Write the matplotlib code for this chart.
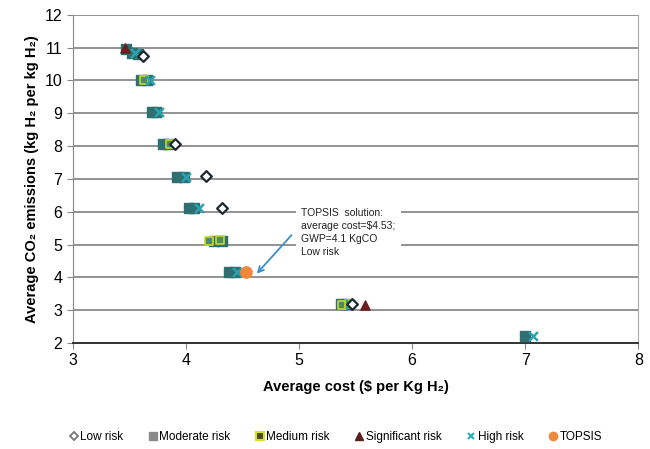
import matplotlib.pyplot as plt
from matplotlib.lines import Line2D

plt.rcParams["font.family"] = ["Liberation Sans", "DejaVu Sans"]

# values
low_x = [3.62, 3.90, 4.18, 4.32, 5.47]
low_y = [10.75, 8.05, 7.1, 6.1, 3.2]

moderate_x = [3.47, 3.52, 3.58, 3.60, 3.66, 3.70, 3.74, 3.80, 3.84, 3.92,
              3.98, 4.03, 4.07, 4.25, 4.32, 4.38, 4.43, 5.37, 5.42, 7.00]
moderate_y = [10.95, 10.85, 10.8, 10.0, 10.0, 9.05, 9.05, 8.05, 8.05, 7.05,
              7.05, 6.1, 6.1, 5.1, 5.1, 4.15, 4.15, 3.2, 3.2, 2.2]

medium_x = [3.63, 3.86, 4.20, 4.30, 5.38, 5.44]
medium_y = [10.0, 8.05, 5.1, 5.15, 3.15, 3.2]

significant_x = [3.46, 5.58]
significant_y = [11.0, 3.15]

high_x = [3.55, 3.68, 3.76, 4.00, 4.12, 4.45, 5.45, 7.07]
high_y = [10.85, 10.0, 9.05, 7.05, 6.1, 4.15, 3.2, 2.2]

topsis_x = [4.53]
topsis_y = [4.15]

x_ticks = [3, 4, 5, 6, 7, 8]
y_ticks = [2, 3, 4, 5, 6, 7, 8, 9, 10, 11, 12]

teal = "#2f6f70"

fig = plt.figure(figsize=(6.5, 4.49), dpi=100)
ax = fig.add_axes([0.112, 0.236, 0.870, 0.731])

for y in y_ticks[1:]:
    ax.axhline(y, color="#8a8a8a", lw=1.3, zorder=1)

ax.scatter(moderate_x, moderate_y, marker="s", s=46, color=teal, zorder=3)
ax.scatter(medium_x, medium_y, marker="s", s=40, facecolor="#4f8a6a",
           edgecolor="#c9d92a", lw=1.2, zorder=3)
ax.scatter(high_x, high_y, marker="x", s=40, color="#2aa3b0", lw=1.8, zorder=4)
ax.scatter(low_x, low_y, marker="D", s=30, facecolor="white",
           edgecolor="#1c2a30", lw=1.6, zorder=4)
ax.scatter(significant_x, significant_y, marker="^", s=44, color="#6b1e1e", zorder=4)
ax.scatter(topsis_x, topsis_y, marker="o", s=66, color="#f0883e", zorder=5)

ax.text(5.02, 6.12, "TOPSIS  solution:\naverage cost=$4.53;\nGWP=4.1 KgCO\nLow risk",
        fontsize=7.5, va="top", ha="left", color="#222222", linespacing=1.4,
        bbox=dict(facecolor="white", edgecolor="none", pad=4), zorder=6)
ax.annotate("", xy=(4.61, 4.05), xytext=(4.95, 5.35),
            arrowprops=dict(arrowstyle="->", color="#3a8fc8", lw=1.3), zorder=7)

ax.set_xlim(3, 8)
ax.set_ylim(2, 12)
ax.set_xticks(x_ticks)
ax.set_yticks(y_ticks)
ax.tick_params(labelsize=11.5, length=4, color="#888888")

ax.spines["top"].set_visible(False)
ax.spines["left"].set_color("#888888")
ax.spines["right"].set_color("#aaaaaa")
ax.spines["bottom"].set_color("#222222")
ax.spines["bottom"].set_linewidth(1.3)

ax.set_xlabel("Average cost ($ per Kg H₂)", fontsize=10.5, fontweight="bold", labelpad=8)
ax.set_ylabel("Average CO₂ emissions (kg H₂ per kg H₂)", fontsize=10.5,
              fontweight="bold", labelpad=4)

handles = [
    Line2D([], [], ls="", marker="D", ms=4, mfc="white", mec="#777777", mew=1.3),
    Line2D([], [], ls="", marker="s", ms=6, color="#8a8a8a"),
    Line2D([], [], ls="", marker="s", ms=6, mfc="#4a4a2a", mec="#d8e020", mew=1.5),
    Line2D([], [], ls="", marker="^", ms=6, color="#5a1e1e"),
    Line2D([], [], ls="", marker="x", ms=5, color="#2ab0c0", mew=1.5),
    Line2D([], [], ls="", marker="o", ms=6, color="#f0883e"),
]
labels = ["Low risk", "Moderate risk", "Medium risk", "Significant risk",
          "High risk", "TOPSIS"]
fig.legend(handles, labels, loc="center", bbox_to_anchor=(0.515, 0.027), ncol=6,
           frameon=False, fontsize=8.5, handletextpad=0.05, columnspacing=2.0,
           handlelength=1.0)

fig.savefig("out.png", dpi=100)
